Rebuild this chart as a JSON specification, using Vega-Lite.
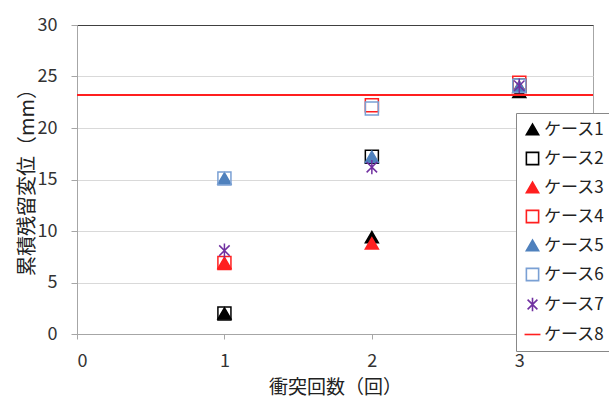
{
  "$schema": "https://vega.github.io/schema/vega-lite/v6.json",
  "width": 516,
  "height": 309,
  "autosize": {"type": "none"},
  "padding": {"left": 77, "top": 25, "right": 16, "bottom": 65},
  "background": "white",
  "config": {
    "font": "Noto Sans CJK JP",
    "view": {"stroke": "#a6a6a6", "strokeWidth": 1}
  },
  "data": {
    "values": [
      {"case": "ケース1", "n": 1, "disp": 2.0},
      {"case": "ケース1", "n": 2, "disp": 9.4},
      {"case": "ケース1", "n": 3, "disp": 23.5},
      {"case": "ケース2", "n": 1, "disp": 2.0},
      {"case": "ケース2", "n": 2, "disp": 17.2},
      {"case": "ケース2", "n": 3, "disp": 24.1},
      {"case": "ケース3", "n": 1, "disp": 6.9},
      {"case": "ケース3", "n": 2, "disp": 8.8},
      {"case": "ケース3", "n": 3, "disp": 24.0},
      {"case": "ケース4", "n": 1, "disp": 6.9},
      {"case": "ケース4", "n": 2, "disp": 22.2},
      {"case": "ケース4", "n": 3, "disp": 24.4},
      {"case": "ケース5", "n": 1, "disp": 15.1},
      {"case": "ケース5", "n": 2, "disp": 17.2},
      {"case": "ケース5", "n": 3, "disp": 24.0},
      {"case": "ケース6", "n": 1, "disp": 15.1},
      {"case": "ケース6", "n": 2, "disp": 21.9},
      {"case": "ケース6", "n": 3, "disp": 24.1},
      {"case": "ケース7", "n": 1, "disp": 8.1},
      {"case": "ケース7", "n": 2, "disp": 16.2},
      {"case": "ケース7", "n": 3, "disp": 24.1},
      {"case": "ケース8", "n": null, "disp": 23.2}
    ]
  },
  "encoding": {
    "y": {
      "field": "disp",
      "type": "quantitative",
      "scale": {"domain": [0, 30]},
      "axis": {
        "title": "累積残留変位（mm）",
        "values": [0, 5, 10, 15, 20, 25, 30],
        "grid": true,
        "gridColor": {"condition": {"test": "datum.value === 30", "value": "#404040"}, "value": "#d9d9d9"},
        "domainColor": "#a6a6a6",
        "tickColor": "#a6a6a6",
        "tickSize": 6,
        "labelFontSize": 18,
        "labelColor": "#333333",
        "labelPadding": 14,
        "titleFontSize": 20,
        "titleFontWeight": "normal",
        "titleColor": "#222222",
        "titleX": -50,
        "titleY": 152,
        "titleAngle": -90,
        "titleAlign": "center",
        "titleBaseline": "middle"
      }
    }
  },
  "layer": [
    {
      "transform": [{"filter": "datum.case !== 'ケース8'"}],
      "mark": {"type": "point", "size": 170, "strokeWidth": 1.5, "opacity": 1},
      "encoding": {
        "x": {
          "field": "n",
          "type": "quantitative",
          "scale": {"domain": [0, 3.5]},
          "axis": {
            "title": "衝突回数（回）",
            "values": [0, 1, 2, 3],
            "grid": false,
            "domainColor": "#a6a6a6",
            "tickColor": "#a6a6a6",
            "tickSize": 5,
            "labelFontSize": 18,
            "labelColor": "#333333",
            "labelPadding": 13,
            "titleFontSize": 19,
            "titleFontWeight": "normal",
            "titleColor": "#222222",
            "titleY": 53,
            "titleBaseline": "middle"
          }
        },
        "color": {
          "field": "case",
          "type": "nominal",
          "scale": {
            "domain": ["ケース1", "ケース2", "ケース3", "ケース4", "ケース5", "ケース6", "ケース7", "ケース8"],
            "range": ["#000000", "#000000", "#ff1f1f", "#ff1f1f", "#4f81bd", "#7aa0d4", "#7030a0", "#ff1f1f"]
          },
          "legend": {
            "title": null,
            "orient": "none",
            "legendX": 439,
            "legendY": 88,
            "labelFontSize": 17,
            "labelColor": "#222222",
            "symbolSize": 150,
            "symbolStrokeWidth": 1.6,
            "rowPadding": 10,
            "padding": 8,
            "strokeColor": "#888888",
            "fillColor": "white",
            "labelOffset": 3
          }
        },
        "fill": {
          "field": "case",
          "type": "nominal",
          "scale": {
            "domain": ["ケース1", "ケース2", "ケース3", "ケース4", "ケース5", "ケース6", "ケース7", "ケース8"],
            "range": ["#000000", "transparent", "#ff1f1f", "transparent", "#4f81bd", "transparent", "transparent", "transparent"]
          }
        },
        "shape": {
          "field": "case",
          "type": "nominal",
          "scale": {
            "domain": ["ケース1", "ケース2", "ケース3", "ケース4", "ケース5", "ケース6", "ケース7", "ケース8"],
            "range": ["triangle-up", "square", "triangle-up", "square", "triangle-up", "square", "M-0.8,-0.8L0.8,0.8M0.8,-0.8L-0.8,0.8M0,-1.1L0,1.1", "M-1.3,0L1.3,0"]
          }
        }
      }
    },
    {
      "transform": [{"filter": "datum.case === 'ケース8'"}],
      "mark": {"type": "rule", "strokeWidth": 2},
      "encoding": {
        "color": {"field": "case", "type": "nominal"}
      }
    }
  ]
}
